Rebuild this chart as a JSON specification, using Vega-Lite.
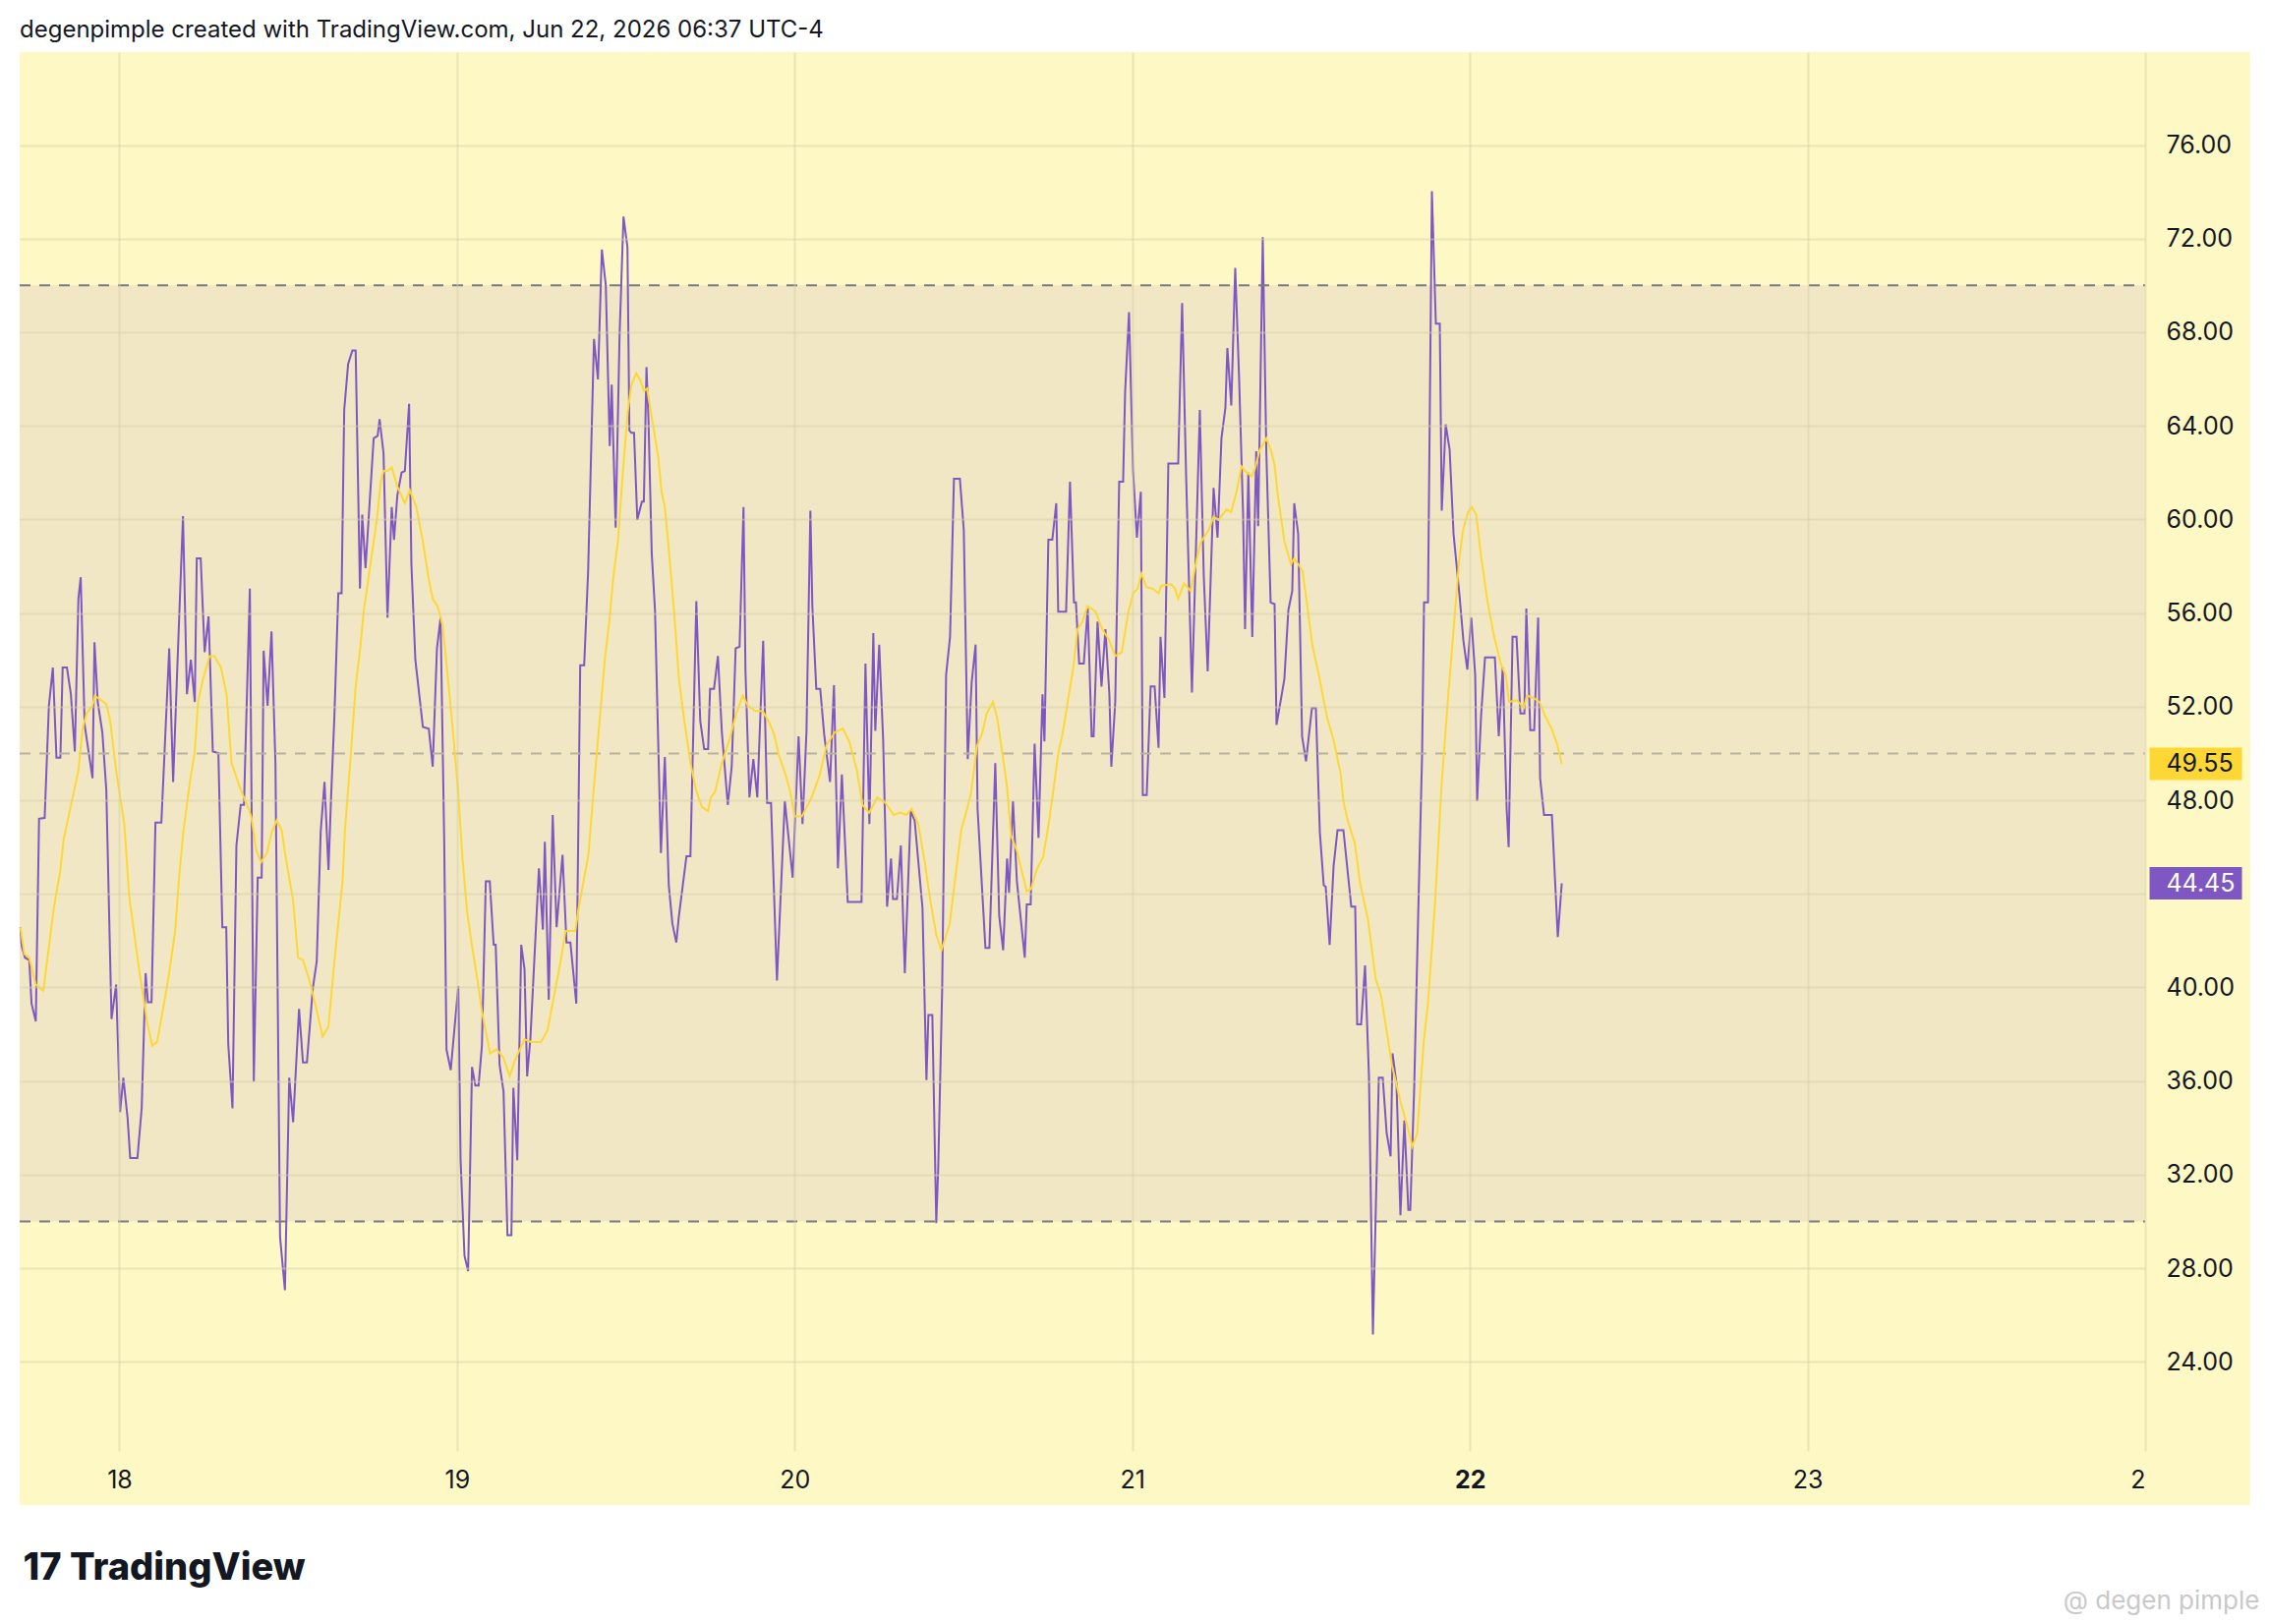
{
  "$schema": "https://vega.github.io/schema/vega-lite/v6.json",
  "width": 2162,
  "height": 1423,
  "autosize": {"type": "none"},
  "padding": {"left": 20, "top": 53, "right": 126, "bottom": 176},
  "background": "#ffffff",
  "title": {
    "text": "degenpimple created with TradingView.com, Jun 22, 2026 06:37 UTC-4",
    "anchor": "start",
    "frame": "group",
    "font": "Inter",
    "fontSize": 24,
    "fontWeight": "normal",
    "color": "#131722",
    "baseline": "bottom",
    "offset": 10,
    "dy": 24
  },
  "datasets": {
    "rsi": [
      {"day":17.7068,"value":42.57},{"day":17.7107,"value":41.76},{"day":17.7204,"value":41.27},{"day":17.7330,"value":41.17},{"day":17.7398,"value":39.31},{"day":17.7524,"value":38.55},{"day":17.7621,"value":47.21},{"day":17.7786,"value":47.24},{"day":17.7912,"value":52.04},{"day":17.8029,"value":53.67},{"day":17.8136,"value":49.82},{"day":17.8252,"value":49.82},{"day":17.8320,"value":53.67},{"day":17.8446,"value":53.67},{"day":17.8563,"value":52.53},{"day":17.8680,"value":50.08},{"day":17.8786,"value":56.61},{"day":17.8854,"value":57.53},{"day":17.8971,"value":51.22},{"day":17.9204,"value":48.94},{"day":17.9262,"value":54.75},{"day":17.9359,"value":52.20},{"day":17.9495,"value":50.90},{"day":17.9612,"value":48.45},{"day":17.9767,"value":38.65},{"day":17.9903,"value":40.12},{"day":18.0019,"value":34.67},{"day":18.0117,"value":36.14},{"day":18.0243,"value":34.41},{"day":18.0320,"value":32.71},{"day":18.0534,"value":32.71},{"day":18.0660,"value":34.83},{"day":18.0777,"value":40.61},{"day":18.0845,"value":39.37},{"day":18.0952,"value":39.37},{"day":18.1068,"value":47.04},{"day":18.1243,"value":47.04},{"day":18.1476,"value":54.49},{"day":18.1592,"value":48.78},{"day":18.1728,"value":54.16},{"day":18.1884,"value":60.14},{"day":18.2000,"value":52.53},{"day":18.2117,"value":54.00},{"day":18.2233,"value":52.20},{"day":18.2292,"value":58.34},{"day":18.2408,"value":58.34},{"day":18.2525,"value":54.33},{"day":18.2641,"value":55.86},{"day":18.2767,"value":50.08},{"day":18.2932,"value":50.02},{"day":18.3049,"value":42.57},{"day":18.3165,"value":42.57},{"day":18.3224,"value":37.58},{"day":18.3350,"value":34.83},{"day":18.3466,"value":46.07},{"day":18.3593,"value":47.80},{"day":18.3690,"value":47.80},{"day":18.3864,"value":57.04},{"day":18.3981,"value":35.98},{"day":18.4097,"value":44.69},{"day":18.4214,"value":44.69},{"day":18.4272,"value":54.39},{"day":18.4389,"value":52.04},{"day":18.4505,"value":55.21},{"day":18.4622,"value":49.59},{"day":18.4758,"value":29.35},{"day":18.4903,"value":27.06},{"day":18.5030,"value":36.14},{"day":18.5146,"value":34.24},{"day":18.5321,"value":39.08},{"day":18.5437,"value":36.79},{"day":18.5554,"value":36.79},{"day":18.5729,"value":39.96},{"day":18.5845,"value":41.10},{"day":18.5962,"value":46.65},
      {"day":18.6076,"value":48.78},{"day":18.6193,"value":45.02},{"day":18.6270,"value":48.12},{"day":18.6367,"value":51.55},{"day":18.6484,"value":56.84},{"day":18.6581,"value":56.84},{"day":18.6659,"value":64.68},{"day":18.6775,"value":66.64},{"day":18.6901,"value":67.22},{"day":18.6998,"value":67.22},{"day":18.7125,"value":57.04},{"day":18.7193,"value":60.20},{"day":18.7290,"value":57.92},{"day":18.7532,"value":63.47},{"day":18.7649,"value":63.57},{"day":18.7707,"value":64.29},{"day":18.7824,"value":62.82},{"day":18.7940,"value":55.80},{"day":18.8066,"value":60.53},{"day":18.8134,"value":59.13},{"day":18.8232,"value":61.02},{"day":18.8358,"value":62.00},{"day":18.8455,"value":62.07},{"day":18.8581,"value":64.94},{"day":18.8649,"value":58.08},{"day":18.8766,"value":54.00},{"day":18.8989,"value":51.13},{"day":18.9164,"value":51.06},{"day":18.9280,"value":49.43},{"day":18.9406,"value":54.49},{"day":18.9513,"value":55.80},{"day":18.9620,"value":46.33},{"day":18.9688,"value":37.35},{"day":18.9814,"value":36.47},{"day":19.0038,"value":40.06},{"day":19.0106,"value":32.61},{"day":19.0222,"value":28.53},{"day":19.0329,"value":27.88},{"day":19.0445,"value":36.60},{"day":19.0543,"value":35.81},{"day":19.0640,"value":35.81},{"day":19.0737,"value":37.51},{"day":19.0853,"value":44.53},{"day":19.0970,"value":44.53},{"day":19.1086,"value":41.82},{"day":19.1145,"value":41.82},{"day":19.1261,"value":36.69},{"day":19.1378,"value":35.55},{"day":19.1494,"value":29.41},{"day":19.1611,"value":29.41},{"day":19.1669,"value":35.71},{"day":19.1785,"value":32.61},{"day":19.1902,"value":41.82},{"day":19.1999,"value":40.78},{"day":19.2077,"value":36.20},{"day":19.2174,"value":37.84},{"day":19.2426,"value":45.09},{"day":19.2543,"value":42.47},{"day":19.2601,"value":46.22},{"day":19.2717,"value":39.47},{"day":19.2834,"value":47.37},{"day":19.2950,"value":42.57},{"day":19.3125,"value":45.67},{"day":19.3242,"value":41.92},{"day":19.3358,"value":41.92},{"day":19.3533,"value":39.31},{"day":19.3649,"value":53.77},{"day":19.3766,"value":53.77},{"day":19.3883,"value":57.76},{"day":19.4057,"value":67.71},{"day":19.4174,"value":65.98},{"day":19.4290,"value":71.53},{"day":19.4407,"value":70.00},{"day":19.4523,"value":63.14},{"day":19.4582,"value":65.76},{"day":19.4698,"value":59.65},{"day":19.4815,"value":67.88},{"day":19.4931,"value":72.94},{"day":19.5048,"value":71.63},{"day":19.5106,"value":63.80},
      {"day":19.5165,"value":63.70},{"day":19.5243,"value":63.70},{"day":19.5340,"value":59.98},{"day":19.5476,"value":60.76},{"day":19.5534,"value":60.76},{"day":19.5612,"value":66.51},{"day":19.5670,"value":64.29},{"day":19.5767,"value":58.57},{"day":19.5864,"value":56.12},{"day":19.6039,"value":45.74},{"day":19.6155,"value":49.85},{"day":19.6272,"value":44.37},{"day":19.6379,"value":42.73},{"day":19.6495,"value":41.92},{"day":19.6573,"value":43.06},{"day":19.6796,"value":45.61},{"day":19.6913,"value":45.61},{"day":19.7088,"value":56.51},{"day":19.7204,"value":51.39},{"day":19.7321,"value":50.18},{"day":19.7437,"value":50.18},{"day":19.7495,"value":52.76},{"day":19.7612,"value":52.76},{"day":19.7728,"value":54.16},{"day":19.7845,"value":50.90},{"day":19.8020,"value":47.80},{"day":19.8136,"value":49.43},{"day":19.8253,"value":54.49},{"day":19.8369,"value":54.56},{"day":19.8486,"value":60.53},{"day":19.8544,"value":53.51},{"day":19.8661,"value":48.12},{"day":19.8777,"value":49.76},{"day":19.8894,"value":48.12},{"day":19.9068,"value":54.82},{"day":19.9185,"value":47.89},{"day":19.9301,"value":47.89},{"day":19.9476,"value":40.29},{"day":19.9709,"value":47.96},{"day":19.9942,"value":44.69},{"day":20.0117,"value":50.73},{"day":20.0233,"value":46.98},{"day":20.0350,"value":50.90},{"day":20.0466,"value":60.37},{"day":20.0525,"value":56.29},{"day":20.0641,"value":52.76},{"day":20.0758,"value":52.76},{"day":20.0874,"value":50.83},{"day":20.1049,"value":48.78},{"day":20.1165,"value":52.92},{"day":20.1282,"value":45.09},{"day":20.1399,"value":49.10},{"day":20.1573,"value":43.65},{"day":20.1981,"value":43.65},{"day":20.2098,"value":53.84},{"day":20.2214,"value":46.98},{"day":20.2331,"value":55.14},{"day":20.2389,"value":50.96},{"day":20.2505,"value":54.65},{"day":20.2622,"value":50.57},{"day":20.2738,"value":43.45},{"day":20.2855,"value":45.51},{"day":20.2913,"value":43.78},{"day":20.3030,"value":43.78},{"day":20.3146,"value":46.07},{"day":20.3263,"value":40.61},{"day":20.3438,"value":47.53},{"day":20.3554,"value":47.14},{"day":20.3787,"value":43.39},{"day":20.3904,"value":36.04},{"day":20.3962,"value":38.82},{"day":20.4078,"value":38.82},{"day":20.4195,"value":29.93},
      {"day":20.4253,"value":32.29},{"day":20.4370,"value":39.96},{"day":20.4486,"value":53.35},{"day":20.4603,"value":54.98},{"day":20.4719,"value":61.74},{"day":20.4894,"value":61.74},{"day":20.5010,"value":59.55},{"day":20.5127,"value":49.76},{"day":20.5243,"value":53.02},{"day":20.5360,"value":54.65},{"day":20.5418,"value":47.63},{"day":20.5651,"value":41.69},{"day":20.5768,"value":41.69},{"day":20.5943,"value":49.59},{"day":20.6059,"value":43.06},{"day":20.6176,"value":41.59},{"day":20.6292,"value":45.51},{"day":20.6350,"value":44.04},{"day":20.6467,"value":47.96},{"day":20.6583,"value":44.53},{"day":20.6816,"value":41.27},{"day":20.6875,"value":43.55},{"day":20.6991,"value":43.55},{"day":20.7108,"value":50.41},{"day":20.7224,"value":46.39},{"day":20.7341,"value":52.53},{"day":20.7399,"value":50.51},{"day":20.7515,"value":59.13},{"day":20.7632,"value":59.13},{"day":20.7749,"value":60.69},{"day":20.7807,"value":56.06},{"day":20.8040,"value":56.06},{"day":20.8156,"value":61.61},{"day":20.8273,"value":56.45},{"day":20.8331,"value":56.45},{"day":20.8428,"value":53.84},{"day":20.8564,"value":53.84},{"day":20.8681,"value":56.19},{"day":20.8797,"value":50.73},{"day":20.8855,"value":50.73},{"day":20.8972,"value":55.63},{"day":20.9089,"value":52.86},{"day":20.9205,"value":55.31},{"day":20.9322,"value":52.53},{"day":20.9380,"value":49.43},{"day":20.9496,"value":52.20},{"day":20.9613,"value":61.61},{"day":20.9729,"value":61.61},{"day":20.9788,"value":65.43},{"day":20.9904,"value":68.86},{"day":21.0021,"value":62.16},{"day":21.0137,"value":59.22},{"day":21.0254,"value":61.18},{"day":21.0312,"value":48.22},{"day":21.0428,"value":48.22},{"day":21.0545,"value":52.86},{"day":21.0662,"value":52.86},{"day":21.0778,"value":50.24},{"day":21.0836,"value":54.98},{"day":21.0953,"value":52.37},{"day":21.1069,"value":62.39},{"day":21.1360,"value":62.39},{"day":21.1477,"value":69.25},{"day":21.1593,"value":62.00},{"day":21.1768,"value":52.60},{"day":21.2001,"value":64.68},{"day":21.2118,"value":57.59},{"day":21.2234,"value":53.51},{"day":21.2409,"value":61.35},{"day":21.2526,"value":59.22},{"day":21.2642,"value":63.47},{"day":21.2759,"value":64.78},{"day":21.2817,"value":67.32},{"day":21.2933,"value":64.87},{"day":21.3050,"value":70.75},{"day":21.3166,"value":65.98},{"day":21.3283,"value":60.20},
      {"day":21.3341,"value":55.31},{"day":21.3438,"value":62.00},{"day":21.3555,"value":54.98},{"day":21.3671,"value":62.91},{"day":21.3729,"value":59.71},{"day":21.3865,"value":72.06},{"day":21.3972,"value":62.82},{"day":21.4098,"value":56.45},{"day":21.4215,"value":56.38},{"day":21.4273,"value":51.22},{"day":21.4506,"value":53.18},{"day":21.4623,"value":56.12},{"day":21.4739,"value":56.94},{"day":21.4797,"value":60.69},{"day":21.4914,"value":59.39},{"day":21.5030,"value":50.73},{"day":21.5147,"value":49.66},{"day":21.5322,"value":51.94},{"day":21.5438,"value":51.94},{"day":21.5555,"value":46.65},{"day":21.5671,"value":44.37},{"day":21.5730,"value":44.30},{"day":21.5846,"value":41.82},{"day":21.5963,"value":45.18},{"day":21.6079,"value":46.72},{"day":21.6254,"value":46.72},{"day":21.6487,"value":43.45},{"day":21.6603,"value":43.45},{"day":21.6662,"value":38.42},{"day":21.6778,"value":38.42},{"day":21.6895,"value":40.94},{"day":21.7011,"value":36.20},{"day":21.7128,"value":25.17},{"day":21.7303,"value":36.14},{"day":21.7419,"value":36.14},{"day":21.7536,"value":33.76},{"day":21.7652,"value":32.78},{"day":21.7710,"value":37.18},{"day":21.7827,"value":35.88},{"day":21.7943,"value":30.26},{"day":21.8060,"value":34.31},{"day":21.8177,"value":30.49},{"day":21.8235,"value":30.49},{"day":21.8351,"value":35.71},{"day":21.8468,"value":43.06},{"day":21.8584,"value":49.92},{"day":21.8642,"value":56.45},{"day":21.8759,"value":56.45},{"day":21.8875,"value":74.02},{"day":21.8992,"value":68.37},{"day":21.9108,"value":68.37},{"day":21.9167,"value":60.37},{"day":21.9283,"value":64.06},{"day":21.9400,"value":62.98},{"day":21.9516,"value":59.39},{"day":21.9691,"value":56.78},{"day":21.9808,"value":54.82},{"day":21.9924,"value":53.58},{"day":22.0041,"value":55.80},{"day":22.0157,"value":53.35},{"day":22.0215,"value":47.96},{"day":22.0332,"value":51.62},{"day":22.0448,"value":54.10},{"day":22.0740,"value":54.10},{"day":22.0856,"value":50.73},{"day":22.0973,"value":53.67},{"day":22.1089,"value":47.63},{"day":22.1148,"value":46.00},{"day":22.1264,"value":54.98},{"day":22.1381,"value":54.98},{"day":22.1497,"value":51.71},{"day":22.1614,"value":51.71},{"day":22.1672,"value":56.19},{"day":22.1789,"value":50.99},{"day":22.1905,"value":50.99},{"day":22.2022,"value":55.80},{"day":22.2080,"value":48.94},{"day":22.2196,"value":47.37},{"day":22.2429,"value":47.37},{"day":22.2604,"value":42.15},{"day":22.2721,"value":44.45}
    ],
    "ma": [
      {"day":17.7068,"value":42.57},{"day":17.7184,"value":41.43},{"day":17.7330,"value":41.27},{"day":17.7524,"value":40.12},{"day":17.7747,"value":39.86},{"day":17.8058,"value":43.39},{"day":17.8252,"value":45.02},{"day":17.8349,"value":46.33},{"day":17.8641,"value":48.29},{"day":17.8786,"value":49.27},{"day":17.8912,"value":51.06},{"day":17.9029,"value":51.71},{"day":17.9204,"value":52.04},{"day":17.9272,"value":52.47},{"day":17.9612,"value":52.11},{"day":17.9728,"value":51.39},{"day":17.9903,"value":49.27},{"day":18.0146,"value":46.98},{"day":18.0291,"value":43.88},{"day":18.0583,"value":40.78},{"day":18.0825,"value":38.49},{"day":18.0971,"value":37.51},{"day":18.1117,"value":37.67},{"day":18.1262,"value":38.82},{"day":18.1457,"value":40.45},{"day":18.1651,"value":42.41},{"day":18.1767,"value":44.69},{"day":18.1893,"value":46.65},{"day":18.2088,"value":48.78},{"day":18.2233,"value":50.08},{"day":18.2330,"value":52.20},{"day":18.2476,"value":53.18},{"day":18.2670,"value":54.16},{"day":18.2816,"value":54.16},{"day":18.3010,"value":53.67},{"day":18.3175,"value":52.53},{"day":18.3321,"value":49.59},{"day":18.3593,"value":48.45},{"day":18.3787,"value":47.80},{"day":18.3903,"value":47.31},{"day":18.4059,"value":45.84},{"day":18.4195,"value":45.35},{"day":18.4369,"value":45.74},{"day":18.4515,"value":46.65},{"day":18.4661,"value":47.14},{"day":18.4806,"value":46.72},{"day":18.4932,"value":45.51},{"day":18.5146,"value":43.71},{"day":18.5292,"value":41.27},{"day":18.5437,"value":41.17},{"day":18.5632,"value":40.29},{"day":18.5826,"value":39.14},{"day":18.6020,"value":37.90},{"day":18.6193,"value":38.33},{"day":18.6367,"value":41.10},{"day":18.6610,"value":44.53},{"day":18.6678,"value":46.65},{"day":18.6853,"value":49.92},{"day":18.6998,"value":52.86},{"day":18.7144,"value":54.65},{"day":18.7241,"value":56.12},{"day":18.7435,"value":58.08},{"day":18.7630,"value":60.04},{"day":18.7746,"value":61.67},{"day":18.7824,"value":62.07},{"day":18.7940,"value":62.07},{"day":18.8066,"value":62.23},{"day":18.8232,"value":61.41},{"day":18.8455,"value":60.69},{"day":18.8600,"value":61.25},{"day":18.8795,"value":60.53},{"day":18.8989,"value":59.06},{"day":18.9164,"value":57.43},{"day":18.9280,"value":56.61},{"day":18.9426,"value":56.29},{"day":18.9572,"value":55.47},{"day":18.9688,"value":53.84},{"day":18.9863,"value":51.22},{"day":19.0038,"value":48.29},{"day":19.0154,"value":45.67},{"day":19.0300,"value":43.22},{"day":19.0445,"value":41.76},{"day":19.0591,"value":40.45},{"day":19.0737,"value":38.98},{"day":19.0979,"value":37.18},{"day":19.1174,"value":37.35},{"day":19.1368,"value":37.02},{"day":19.1562,"value":36.20},{"day":19.1708,"value":36.86},{"day":19.1999,"value":37.78},{"day":19.2193,"value":37.67},{"day":19.2485,"value":37.67},{"day":19.2679,"value":38.16},{"day":19.2873,"value":39.63},{"day":19.3067,"value":41.10},{"day":19.3213,"value":42.41},{"day":19.3504,"value":42.41},{"day":19.3601,"value":43.39},{"day":19.3892,"value":45.67},{"day":19.4038,"value":48.29},{"day":19.4232,"value":51.55},{"day":19.4378,"value":54.00},{"day":19.4523,"value":55.80},{"day":19.4621,"value":57.43},{"day":19.4766,"value":59.06},{"day":19.4912,"value":62.00},{"day":19.5058,"value":64.61},{"day":19.5165,"value":65.76},{"day":19.5311,"value":66.24},{"day":19.5437,"value":65.92},{"day":19.5534,"value":65.49},{"day":19.5631,"value":65.59},{"day":19.5796,"value":64.12},{"day":19.5961,"value":62.65},{"day":19.6058,"value":61.18},{"day":19.6155,"value":60.53},{"day":19.6282,"value":58.57},{"day":19.6427,"value":56.12},{"day":19.6573,"value":53.18},{"day":19.6719,"value":51.55},{"day":19.6913,"value":49.59},{"day":19.7078,"value":48.45},{"day":19.7253,"value":47.70},{"day":19.7437,"value":47.53},{"day":19.7515,"value":48.12},{"day":19.7641,"value":48.35},{"day":19.7835,"value":49.53},{"day":19.8078,"value":50.64},{"day":19.8272,"value":51.71},{"day":19.8466,"value":52.47},{"day":19.8612,"value":52.04},{"day":19.8835,"value":51.81},{"day":19.9049,"value":51.81},{"day":19.9224,"value":51.39},{"day":19.9389,"value":50.83},{"day":19.9534,"value":49.92},{"day":19.9729,"value":49.10},{"day":19.9874,"value":48.35},{"day":20.0000,"value":47.31},{"day":20.0214,"value":47.31},{"day":20.0505,"value":48.12},{"day":20.0748,"value":49.10},{"day":20.0942,"value":50.34},{"day":20.1185,"value":50.90},{"day":20.1428,"value":51.06},{"day":20.1622,"value":50.50},{"day":20.1845,"value":49.27},{"day":20.2010,"value":47.80},{"day":20.2205,"value":47.47},{"day":20.2447,"value":48.12},{"day":20.2690,"value":47.89},{"day":20.2933,"value":47.37},{"day":20.3127,"value":47.47},{"day":20.3302,"value":47.37},{"day":20.3467,"value":47.63},{"day":20.3661,"value":46.98},{"day":20.3855,"value":45.35},{"day":20.4001,"value":43.88},{"day":20.4195,"value":42.24},{"day":20.4350,"value":41.59},{"day":20.4593,"value":42.73},{"day":20.4787,"value":45.02},{"day":20.4933,"value":46.72},{"day":20.5078,"value":47.47},{"day":20.5224,"value":48.29},{"day":20.5399,"value":50.31},{"day":20.5564,"value":50.90},{"day":20.5690,"value":51.71},{"day":20.5875,"value":52.20},{"day":20.6001,"value":51.49},{"day":20.6156,"value":49.98},{"day":20.6292,"value":48.55},{"day":20.6409,"value":46.49},{"day":20.6583,"value":45.84},{"day":20.6729,"value":44.96},{"day":20.6875,"value":44.11},{"day":20.7001,"value":44.20},{"day":20.7166,"value":45.02},{"day":20.7360,"value":45.58},{"day":20.7506,"value":46.82},{"day":20.7651,"value":48.29},{"day":20.7797,"value":49.92},{"day":20.7943,"value":50.90},{"day":20.8088,"value":52.20},{"day":20.8253,"value":53.67},{"day":20.8380,"value":55.31},{"day":20.8525,"value":55.63},{"day":20.8671,"value":56.29},{"day":20.8914,"value":56.06},{"day":20.9108,"value":55.31},{"day":20.9302,"value":54.88},{"day":20.9496,"value":54.16},{"day":20.9691,"value":54.33},{"day":20.9885,"value":56.06},{"day":21.0030,"value":56.84},{"day":21.0157,"value":57.04},{"day":21.0273,"value":57.69},{"day":21.0419,"value":57.10},{"day":21.0613,"value":57.04},{"day":21.0778,"value":56.84},{"day":21.0856,"value":57.16},{"day":21.1147,"value":57.23},{"day":21.1264,"value":57.04},{"day":21.1360,"value":56.61},{"day":21.1535,"value":57.27},{"day":21.1729,"value":56.94},{"day":21.1924,"value":58.41},{"day":21.2021,"value":59.00},{"day":21.2264,"value":59.55},{"day":21.2409,"value":60.11},{"day":21.2555,"value":59.98},{"day":21.2797,"value":60.43},{"day":21.2924,"value":60.30},{"day":21.3089,"value":61.18},{"day":21.3235,"value":62.26},{"day":21.3341,"value":62.07},{"day":21.3535,"value":61.84},{"day":21.3632,"value":62.16},{"day":21.3778,"value":62.98},{"day":21.3972,"value":63.47},{"day":21.4118,"value":62.91},{"day":21.4215,"value":62.33},{"day":21.4312,"value":61.02},{"day":21.4506,"value":59.06},{"day":21.4700,"value":58.08},{"day":21.4797,"value":58.34},{"day":21.5040,"value":57.82},{"day":21.5186,"value":56.29},{"day":21.5331,"value":54.65},{"day":21.5526,"value":53.35},{"day":21.5768,"value":51.55},{"day":21.5963,"value":50.57},{"day":21.6176,"value":49.10},{"day":21.6254,"value":47.96},{"day":21.6400,"value":47.04},{"day":21.6594,"value":46.16},{"day":21.6739,"value":44.53},{"day":21.6982,"value":42.90},{"day":21.7128,"value":41.27},{"day":21.7205,"value":40.39},{"day":21.7371,"value":39.63},{"day":21.7691,"value":36.69},{"day":21.7953,"value":35.06},{"day":21.8147,"value":34.08},{"day":21.8293,"value":33.20},{"day":21.8439,"value":33.76},{"day":21.8633,"value":37.67},{"day":21.8759,"value":39.31},{"day":21.8973,"value":43.71},{"day":21.9167,"value":48.78},{"day":21.9361,"value":52.53},{"day":21.9555,"value":55.96},{"day":21.9681,"value":58.24},{"day":21.9798,"value":59.55},{"day":21.9943,"value":60.30},{"day":22.0060,"value":60.53},{"day":22.0186,"value":60.20},{"day":22.0332,"value":58.41},{"day":22.0526,"value":56.45},{"day":22.0720,"value":54.98},{"day":22.0914,"value":53.84},{"day":22.1060,"value":53.35},{"day":22.1157,"value":52.20},{"day":22.1400,"value":52.27},{"day":22.1594,"value":51.94},{"day":22.1691,"value":52.47},{"day":22.1886,"value":52.37},{"day":22.2060,"value":52.20},{"day":22.2225,"value":51.62},{"day":22.2419,"value":51.06},{"day":22.2584,"value":50.40},{"day":22.2721,"value":49.55}
    ],
    "levels": [
      {"level": 70, "name": "upper"},
      {"level": 50, "name": "middle"},
      {"level": 30, "name": "lower"}
    ],
    "band": [{"lower": 30, "upper": 70}],
    "last": [
      {"series": "RSI-based MA", "value": 49.55},
      {"series": "RSI", "value": 44.45}
    ]
  },
  "layer": [
    {
      "data": {"values": [{"panel": "chart"}]},
      "mark": {"type": "rect", "color": "#fef8c5"},
      "encoding": {
        "x": {"datum": 17.7046, "scale": {"domain": [17.7046, 24.0]}},
        "x2": {"datum": 24.311},
        "y": {"datum": 79.97, "scale": {"domain": [20.19, 79.97]}},
        "y2": {"datum": 17.88}
      }
    },
    {
      "data": {"name": "band"},
      "mark": {"type": "rect", "color": "#7e57c2", "opacity": 0.1},
      "encoding": {
        "x": {"datum": 17.7046, "scale": {"domain": [17.7046, 24.0]}},
        "x2": {"datum": 24.0},
        "y": {"field": "lower", "type": "quantitative", "scale": {"domain": [20.19, 79.97]}},
        "y2": {"field": "upper"}
      }
    },
    {
      "data": {"name": "rsi"},
      "mark": {"type": "line", "color": "#7e57c2", "strokeWidth": 2},
      "encoding": {
        "x": {
          "field": "day",
          "type": "quantitative",
          "scale": {"domain": [17.7046, 24.0], "nice": false, "zero": false},
          "axis": {
            "values": [18, 19, 20, 21, 22, 23, 24],
            "labelExpr": "datum.value == 24 ? '2' : format(datum.value, 'd')",
            "labelAlign": {"condition": {"test": "datum.value == 24", "value": "right"}, "value": "center"},
            "labelFontWeight": {"condition": {"test": "datum.value == 22", "value": "bold"}, "value": "normal"},
            "labelFont": "Inter",
            "labelFontSize": 25,
            "labelColor": "#131722",
            "labelBaseline": "middle",
            "labelPadding": 29,
            "labelFlush": false,
            "labelOverlap": false,
            "labelBound": false,
            "ticks": false,
            "domain": false,
            "grid": true,
            "gridColor": "#d8d0a8",
            "gridOpacity": 0.5,
            "gridWidth": 2,
            "zindex": 1,
            "title": "17 TradingView",
            "titleFont": "Inter",
            "titleFontSize": 38,
            "titleFontWeight": 800,
            "titleColor": "#131722",
            "titleAlign": "left",
            "titleBaseline": "alphabetic",
            "titleX": 3,
            "titleY": 130
          }
        },
        "y": {
          "field": "value",
          "type": "quantitative",
          "scale": {"domain": [20.19, 79.97], "nice": false, "zero": false},
          "axis": {
            "orient": "right",
            "values": [24, 28, 32, 36, 40, 44, 48, 52, 56, 60, 64, 68, 72, 76],
            "labelExpr": "datum.value == 44 ? '' : format(datum.value, '.2f')",
            "labelFont": "Inter",
            "labelFontSize": 25,
            "labelColor": "#131722",
            "labelAlign": "left",
            "labelPadding": 21,
            "ticks": false,
            "domain": false,
            "grid": true,
            "gridColor": "#d8d0a8",
            "gridOpacity": 0.5,
            "gridWidth": 2,
            "zindex": 1,
            "title": "@ degen pimple",
            "titleAngle": 0,
            "titleFont": "Inter",
            "titleFontSize": 26,
            "titleFontWeight": "normal",
            "titleColor": "#c9c9c9",
            "titleAlign": "right",
            "titleBaseline": "alphabetic",
            "titleX": 116,
            "titleY": 1583
          }
        }
      }
    },
    {
      "data": {"name": "levels"},
      "mark": {"type": "rule", "strokeWidth": 2, "strokeDash": [11, 9]},
      "encoding": {
        "x": {"datum": 17.7046, "scale": {"domain": [17.7046, 24.0]}},
        "x2": {"datum": 24.0},
        "y": {"field": "level", "type": "quantitative", "scale": {"domain": [20.19, 79.97]}},
        "color": {"condition": {"test": "datum.name === 'middle'", "value": "#b8b3a0"}, "value": "#787b86"}
      }
    },
    {
      "data": {"name": "ma"},
      "mark": {"type": "line", "color": "#fdd835", "strokeWidth": 2},
      "encoding": {
        "x": {"field": "day", "type": "quantitative", "scale": {"domain": [17.7046, 24.0]}},
        "y": {"field": "value", "type": "quantitative", "scale": {"domain": [20.19, 79.97]}}
      }
    },
    {
      "data": {"name": "last"},
      "mark": {"type": "point", "shape": "M-1,-0.351H1V0.351H-1Z", "filled": true, "opacity": 1, "size": 8836},
      "encoding": {
        "x": {"datum": 24.15, "scale": {"domain": [17.7046, 24.0]}},
        "y": {"field": "value", "type": "quantitative", "scale": {"domain": [20.19, 79.97]}},
        "color": {"condition": {"test": "datum.series === 'RSI'", "value": "#7e57c2"}, "value": "#fdd835"}
      }
    },
    {
      "data": {"name": "last"},
      "mark": {"type": "text", "align": "left", "baseline": "middle", "font": "Inter", "fontSize": 25},
      "encoding": {
        "x": {"datum": 24.0624, "scale": {"domain": [17.7046, 24.0]}},
        "y": {"field": "value", "type": "quantitative", "scale": {"domain": [20.19, 79.97]}},
        "text": {"field": "value", "type": "quantitative", "format": ".2f"},
        "color": {"condition": {"test": "datum.series === 'RSI'", "value": "#ffffff"}, "value": "#131722"}
      }
    }
  ],
  "config": {
    "view": {"stroke": null},
    "font": "Inter"
  }
}
